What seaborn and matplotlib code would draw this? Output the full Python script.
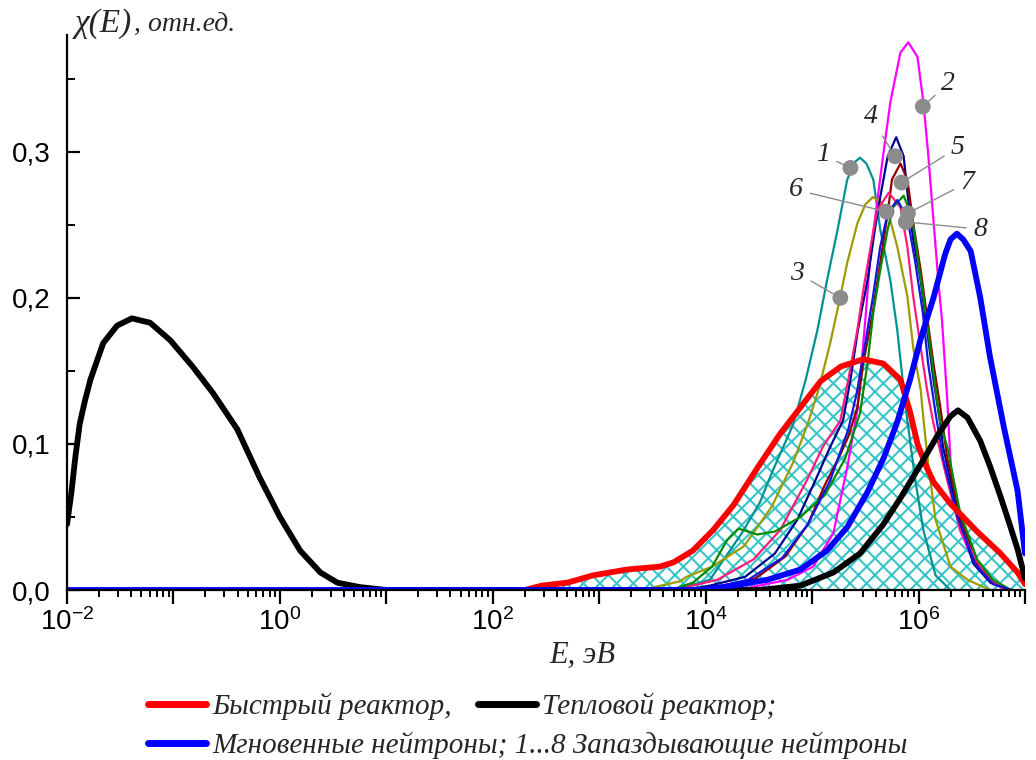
import numpy as np
import matplotlib
matplotlib.use("Agg")
import matplotlib.pyplot as plt
import seaborn as sns
from matplotlib.ticker import LogLocator, FuncFormatter, NullFormatter, MultipleLocator
from matplotlib.lines import Line2D

# ---- spectra: energy as log10(E / eV), chi(E) in relative units ----
thermal_lg = [-2.00, -1.96, -1.92, -1.88, -1.83, -1.78, -1.66, -1.53, -1.39, -1.22, -1.03,
              -0.82, -0.63, -0.40, -0.19, 0.00, 0.19, 0.38, 0.54, 0.75, 1.00,
              4.50, 4.64, 4.89, 5.20, 5.45, 5.67, 5.83, 6.02, 6.18, 6.30,
              6.37, 6.46, 6.58, 6.67, 6.77, 6.86, 6.93, 7.00]
thermal_chi = [0.045, 0.066, 0.092, 0.114, 0.130, 0.144, 0.169, 0.181, 0.186, 0.183, 0.171,
               0.153, 0.135, 0.110, 0.077, 0.050, 0.027, 0.012, 0.005, 0.002, 0.000,
               0.000, 0.001, 0.003, 0.012, 0.025, 0.045, 0.063, 0.086, 0.106, 0.119,
               0.123, 0.118, 0.102, 0.085, 0.064, 0.044, 0.028, 0.008]

fast_lg = [2.30, 2.46, 2.70, 2.94, 3.26, 3.57, 3.70, 3.88, 4.07, 4.26, 4.49, 4.70, 4.89, 5.08,
           5.27, 5.48, 5.67, 5.83, 5.92, 5.99, 6.07, 6.14, 6.30, 6.55, 6.77, 6.93, 7.00]
fast_chi = [0.000, 0.003, 0.005, 0.010, 0.014, 0.016, 0.019, 0.027, 0.041, 0.058, 0.084, 0.107,
            0.125, 0.143, 0.153, 0.158, 0.155, 0.144, 0.122, 0.100, 0.085, 0.074, 0.059, 0.040,
            0.025, 0.012, 0.004]

prompt_lg = [-2.00, 3.95, 4.26, 4.58, 4.89, 5.14, 5.33, 5.52, 5.67, 5.80, 5.92, 6.02, 6.14,
             6.25, 6.30, 6.36, 6.42, 6.49, 6.58, 6.67, 6.80, 6.93, 7.00]
prompt_chi = [0.000, 0.000, 0.003, 0.007, 0.014, 0.027, 0.043, 0.067, 0.090, 0.115, 0.144,
              0.172, 0.200, 0.230, 0.240, 0.244, 0.240, 0.232, 0.200, 0.160, 0.112, 0.068, 0.025]

# delayed neutron groups 1...8
group1_lg = [3.70, 4.04, 4.34, 4.51, 4.62, 4.82, 4.94, 5.05, 5.14, 5.24, 5.33, 5.40, 5.45, 5.51,
             5.575, 5.64, 5.735, 5.80, 5.85, 5.895, 5.97, 6.045, 6.16, 6.30]
group1_chi = [0.000, 0.007, 0.039, 0.060, 0.080, 0.113, 0.144, 0.178, 0.212, 0.247, 0.281, 0.293,
              0.296, 0.292, 0.281, 0.247, 0.212, 0.178, 0.144, 0.116, 0.075, 0.041, 0.010, 0.000]

group2_lg = [4.30, 4.77, 5.01, 5.20, 5.33, 5.425, 5.50, 5.55, 5.61, 5.67, 5.735, 5.83, 5.904,
             5.99, 6.045, 6.09, 6.14, 6.19, 6.22, 6.27, 6.31, 6.39, 6.53, 6.675, 6.85]
group2_chi = [0.000, 0.007, 0.016, 0.039, 0.084, 0.123, 0.185, 0.231, 0.265, 0.299, 0.334, 0.368,
              0.375, 0.365, 0.334, 0.299, 0.253, 0.208, 0.185, 0.130, 0.075, 0.041, 0.017, 0.007,
              0.000]

group3_lg = [3.40, 3.76, 3.82, 4.06, 4.36, 4.62, 4.82, 4.96, 5.06, 5.17, 5.265, 5.33, 5.425,
             5.50, 5.57, 5.64, 5.71, 5.80, 5.895, 5.95, 6.02, 6.05, 6.09, 6.16, 6.30, 6.46, 6.67]
group3_chi = [0.000, 0.006, 0.009, 0.016, 0.030, 0.057, 0.087, 0.114, 0.137, 0.169, 0.201, 0.224,
              0.251, 0.264, 0.269, 0.266, 0.260, 0.235, 0.201, 0.166, 0.137, 0.114, 0.087, 0.048,
              0.016, 0.007, 0.000]

group4_lg = [3.80, 4.04, 4.37, 4.65, 4.86, 5.03, 5.17, 5.29, 5.36, 5.43, 5.52, 5.59, 5.64, 5.71,
             5.79, 5.86, 5.90, 5.95, 6.02, 6.08, 6.14, 6.20, 6.23, 6.365, 6.515, 6.675, 6.85]
group4_chi = [0.000, 0.003, 0.009, 0.025, 0.048, 0.075, 0.098, 0.116, 0.144, 0.178, 0.212, 0.247,
              0.269, 0.297, 0.310, 0.297, 0.269, 0.240, 0.212, 0.178, 0.144, 0.116, 0.098, 0.053,
              0.018, 0.005, 0.000]

group5_lg = [3.85, 4.14, 4.47, 4.75, 4.96, 5.12, 5.26, 5.34, 5.425, 5.48, 5.57, 5.64, 5.71, 5.75,
             5.83, 5.895, 5.95, 6.02, 6.08, 6.14, 6.205, 6.27, 6.39, 6.55, 6.72, 6.87]
group5_chi = [0.000, 0.002, 0.008, 0.023, 0.045, 0.072, 0.092, 0.105, 0.125, 0.155, 0.190, 0.224,
              0.258, 0.281, 0.292, 0.281, 0.251, 0.219, 0.187, 0.155, 0.125, 0.090, 0.050, 0.018,
              0.004, 0.000]

group6_lg = [3.70, 4.11, 4.45, 4.70, 4.95, 5.10, 5.265, 5.34, 5.425, 5.48, 5.55, 5.61, 5.72,
             5.83, 5.895, 5.95, 6.02, 6.08, 6.14, 6.27, 6.39, 6.61, 6.80]
group6_chi = [0.000, 0.007, 0.021, 0.041, 0.075, 0.098, 0.116, 0.144, 0.178, 0.205, 0.235, 0.260,
              0.272, 0.262, 0.235, 0.201, 0.166, 0.137, 0.114, 0.075, 0.041, 0.012, 0.000]

group7_lg = [3.67, 3.88, 4.06, 4.20, 4.31, 4.40, 4.485, 4.65, 4.89, 5.12, 5.31, 5.45, 5.52, 5.575,
             5.64, 5.71, 5.76, 5.86, 5.94, 5.99, 6.045, 6.11, 6.16, 6.205, 6.27, 6.39, 6.55, 6.70,
             6.87]
group7_chi = [0.000, 0.005, 0.016, 0.034, 0.042, 0.040, 0.038, 0.040, 0.050, 0.065, 0.090, 0.121,
              0.155, 0.190, 0.219, 0.247, 0.262, 0.270, 0.255, 0.228, 0.201, 0.166, 0.137, 0.114,
              0.098, 0.053, 0.021, 0.007, 0.000]

group8_lg = [3.85, 4.09, 4.40, 4.72, 4.96, 5.17, 5.34, 5.42, 5.49, 5.57, 5.64, 5.71, 5.80, 5.895,
             5.97, 6.04, 6.09, 6.16, 6.23, 6.365, 6.53, 6.70, 6.87]
group8_chi = [0.000, 0.002, 0.007, 0.022, 0.045, 0.075, 0.110, 0.135, 0.165, 0.200, 0.235, 0.258,
              0.267, 0.255, 0.224, 0.190, 0.155, 0.121, 0.090, 0.050, 0.018, 0.004, 0.000]

group_colors = ["#009292", "#ff00ff", "#9c9c00", "#000090",
                "#900000", "#ff1a80", "#008a00", "#1414e0"]

# group number tags: point on the curve and tag text position (log10 E, chi)
tag_text = ["1", "2", "3", "4", "5", "6", "7", "8"]
tag_dot_lg = [5.36, 6.04, 5.265, 5.78, 5.84, 5.70, 5.90, 5.88]
tag_dot_chi = [0.289, 0.331, 0.200, 0.297, 0.279, 0.259, 0.258, 0.252]
tag_txt_lg = [5.10, 6.28, 4.86, 5.55, 6.37, 4.85, 6.46, 6.58]
tag_txt_chi = [0.298, 0.347, 0.217, 0.324, 0.303, 0.274, 0.279, 0.247]

legend_labels = ["Быстрый реактор,", "Тепловой реактор;",
                 "Мгновенные нейтроны; 1...8 Запаздывающие нейтроны"]

# ---- style ----
sns.set_style("ticks")
plt.rcParams["font.family"] = ["Liberation Sans", "DejaVu Sans"]
plt.rcParams["mathtext.default"] = "regular"
plt.rcParams["hatch.linewidth"] = 1.5
plt.rcParams["hatch.color"] = "#38c4c8"
plt.rcParams["axes.edgecolor"] = "black"
plt.rcParams["xtick.color"] = "black"
plt.rcParams["ytick.color"] = "black"

serif_it = dict(family=["Liberation Serif", "DejaVu Serif"], style="italic")

fig = plt.figure(figsize=(10.36, 7.6), dpi=100)
ax = fig.add_axes([67 / 1036, 170 / 760, 958 / 1036, 555 / 760])


def energy(lg):
    return np.power(10.0, np.asarray(lg, dtype=float))


# cross-hatched area under the fast reactor spectrum
ax.fill_between(energy(fast_lg), fast_chi, 0, facecolor="none", edgecolor="#38c4c8",
                hatch="xx", linewidth=0, zorder=1)

groups = [(group1_lg, group1_chi), (group2_lg, group2_chi), (group3_lg, group3_chi),
          (group4_lg, group4_chi), (group5_lg, group5_chi), (group6_lg, group6_chi),
          (group7_lg, group7_chi), (group8_lg, group8_chi)]
for (lg, chi), col in zip(groups, group_colors):
    sns.lineplot(x=energy(lg), y=chi, ax=ax, color=col, linewidth=1.6, sort=False,
                 estimator=None, errorbar=None, zorder=2)

sns.lineplot(x=energy(fast_lg), y=fast_chi, ax=ax, color="#ff0000", linewidth=4.2,
             sort=False, estimator=None, errorbar=None, zorder=3)
sns.lineplot(x=energy(thermal_lg), y=thermal_chi, ax=ax, color="black", linewidth=4.2,
             sort=False, estimator=None, errorbar=None, zorder=4)
sns.lineplot(x=energy(prompt_lg), y=prompt_chi, ax=ax, color="#0000ff", linewidth=4.2,
             sort=False, estimator=None, errorbar=None, zorder=5)

# group tags
for t, dl, dc, tl, tc in zip(tag_text, tag_dot_lg, tag_dot_chi, tag_txt_lg, tag_txt_chi):
    ax.annotate(t, xy=(10 ** dl, dc), xytext=(10 ** tl, tc), ha="center", va="center",
                fontsize=20, zorder=7,
                arrowprops=dict(arrowstyle="-", color="#8c8c8c", lw=1.0, shrinkA=3, shrinkB=0),
                **serif_it)
sns.scatterplot(x=energy(tag_dot_lg), y=tag_dot_chi, ax=ax, color="#8c8c8c", s=130,
                edgecolor="none", zorder=8, legend=False)

# ---- axes ----
ax.set_xscale("log")
ax.set_xlim(1e-2, 1e7)
ax.set_ylim(0, 0.38)
ax.set_xlabel("")
ax.set_ylabel("")
for side in ("top", "right"):
    ax.spines[side].set_visible(False)
for side in ("left", "bottom"):
    ax.spines[side].set_linewidth(1.6)
    ax.spines[side].set_zorder(9)


def decade_label(v, pos):
    e = int(round(np.log10(v)))
    return r"$\mathdefault{10^{%d}}$" % e if e % 2 == 0 else ""


ax.xaxis.set_major_locator(LogLocator(base=10, numticks=30))
ax.xaxis.set_minor_locator(LogLocator(base=10, subs=np.arange(2, 10), numticks=200))
ax.xaxis.set_major_formatter(FuncFormatter(decade_label))
ax.xaxis.set_minor_formatter(NullFormatter())
ax.yaxis.set_major_locator(MultipleLocator(0.1))
ax.yaxis.set_minor_locator(MultipleLocator(0.05))
ax.yaxis.set_major_formatter(FuncFormatter(lambda v, p: f"{v:.1f}".replace(".", ",")))

ax.tick_params(axis="x", which="major", direction="out", length=10, width=1.6,
               labelsize=20, pad=3)
ax.tick_params(axis="x", which="minor", direction="out", length=5, width=1.4)
ax.tick_params(axis="y", which="major", direction="in", length=9, width=1.6,
               labelsize=20, pad=12)
ax.tick_params(axis="y", which="minor", direction="in", length=6, width=1.4)

# axis titles
fig.text(75 / 1036, 1 - 32 / 760, "χ(E)", ha="left", va="baseline", fontsize=24, **serif_it)
fig.text(134 / 1036, 1 - 32 / 760, ", отн.ед.", ha="left", va="baseline", fontsize=20,
         **serif_it)
fig.text(582 / 1036, 1 - 655 / 760, "E, эВ", ha="center", va="center", fontsize=22,
         **serif_it)

# legend, two rows
h_fast = Line2D([], [], color="#ff0000", lw=5)
h_thermal = Line2D([], [], color="black", lw=5)
h_prompt = Line2D([], [], color="#0000ff", lw=5)
leg_font = dict(family=["Liberation Serif", "DejaVu Serif"], style="italic", size=21)
leg1 = fig.legend([h_fast, h_thermal], legend_labels[:2], ncol=2, loc="center left",
                  bbox_to_anchor=(148 / 1036, 1 - 706 / 760), frameon=False, prop=leg_font,
                  handlelength=2.0, handletextpad=0.2, columnspacing=0.9, borderpad=0,
                  borderaxespad=0)
leg2 = fig.legend([h_prompt], legend_labels[2:], loc="center left",
                  bbox_to_anchor=(148 / 1036, 1 - 745 / 760), frameon=False, prop=leg_font,
                  handlelength=2.0, handletextpad=0.2, borderpad=0, borderaxespad=0)

fig.savefig("out.png", dpi=100)
